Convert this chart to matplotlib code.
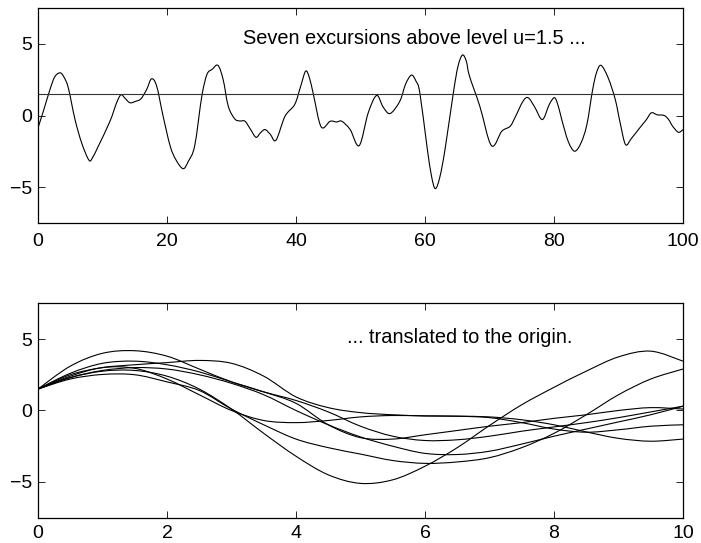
import matplotlib
matplotlib.use("Agg")
import matplotlib.pyplot as plt
from matplotlib.path import Path
from matplotlib.patches import PathPatch
import numpy as np

plt.rcParams['font.family'] = ['Liberation Sans', 'DejaVu Sans']

# top panel: the sampled series and the level
top_x = [0, 0.83, 1.86, 2.6, 3.41, 4.0, 4.7, 5.74, 6.77, 7.91, 8.5, 9.35, 11.16, 12.2,
         12.87, 13.5, 14.26, 15.2, 15.97, 16.85, 17.6, 18.4, 19.4, 20.5, 21.4, 22.5, 23.3,
         24.3, 25.4, 26.2, 27.0, 27.9, 28.7, 29.5, 30.5, 31.3, 32.1, 33.0, 33.8, 34.5, 35.2,
         36.0, 36.9, 38.3, 39.8, 40.7, 41.5, 42.1, 42.7, 43.9, 45.3, 46.3, 47.1, 48.4, 49.8,
         51.2, 52.5, 53.5, 54.6, 56.1, 57.0, 57.9, 58.6, 59.2, 60.3, 61.0, 61.6, 62.3, 63.1,
         64.4, 65.1, 65.8, 66.4, 66.9, 68.5, 70.3, 71.9, 73.2, 74.0, 75.2, 76.0, 77.0, 78.2,
         79.3, 80.1, 80.7, 81.2, 82.2, 83.2, 84.2, 85.1, 86.0, 86.6, 87.3, 88.4, 89.5, 90.3,
         91.1, 92.0, 93.3, 94.3, 95.1, 96.0, 97.1, 97.8, 98.4, 99.3, 100]
top_y = [-0.86, 0.3, 1.82, 2.7, 2.98, 2.7, 1.93, -0.28, -1.91, -3.12, -2.9, -2.14, -0.4, 0.9,
         1.45, 1.2, 0.89, 1.0, 1.17, 1.82, 2.56, 2.05, -0.05, -2.14, -3.1, -3.71, -3.2,
         -2.1, 1.35, 2.87, 3.22, 3.5, 2.52, 0.65, -0.23, -0.38, -0.4, -1.0, -1.52, -1.2, -0.98,
         -1.3, -1.72, -0.05, 0.77, 2.0, 3.1, 2.6, 1.47, -0.79, -0.4, -0.45, -0.4, -0.98, -2.1,
         0.19, 1.4, 0.6, 0.14, 1.0, 2.2, 2.82, 2.4, 1.59, -2.14, -4.2, -5.1, -4.3, -2.38,
         1.59, 3.4, 4.22, 3.8, 2.75, 0.65, -2.1, -1.1, -0.75, -0.1, 1.0, 1.24, 0.6, -0.28,
         0.8, 1.24, 0.6, -0.28, -1.8, -2.49, -1.9, -0.63, 1.82, 3.0, 3.5, 2.63, 1.12, -0.6,
         -2.03, -1.6, -0.86, -0.3, 0.19, 0.05, 0.0, -0.3, -0.75, -1.17, -0.98]
level_u = 1.5

# bottom panel: the seven excursions, shifted so they start at t=0
t_exc = [0, 0.5, 1.0, 1.5, 2.0, 2.5, 3.0, 3.5, 4.0, 4.5, 5.0, 5.5, 6.0, 6.5, 7.0,
         7.5, 8.0, 8.5, 9.0, 9.5, 10.0]
exc_a = [1.5, 2.3, 2.8, 3.0, 2.9, 2.5, 1.9, 1.1, 0.0, -1.0, -1.85, -2.5, -3.0, -3.08, -2.85,
         -2.35, -1.8, -1.3, -0.8, -0.3, 0.3]
exc_b = [1.5, 2.2, 2.52, 2.5, 2.0, 1.4, 0.1, -1.0, -2.0, -2.6, -3.05, -3.5, -3.7, -3.6, -3.3,
         -2.6, -1.6, -0.3, 1.1, 2.2, 2.9]
exc_c = [1.5, 2.5, 3.0, 3.2, 3.35, 3.5, 3.3, 2.4, 0.95, 0.2, -0.15, -0.3, -0.38, -0.4, -0.5,
         -0.85, -1.3, -1.52, -1.35, -1.1, -1.0]
exc_d = [1.5, 2.4, 3.0, 2.95, 2.2, 1.1, 0.0, -0.7, -0.85, -0.7, -0.45, -0.35, -0.38, -0.4,
         -0.45, -0.65, -1.0, -1.5, -1.95, -2.15, -2.0]
exc_e = [1.5, 2.3, 2.75, 2.8, 2.4, 1.5, 0.1, -1.6, -3.2, -4.5, -5.1, -4.85, -3.9, -2.6, -1.05,
         0.4, 1.62, 2.75, 3.75, 4.15, 3.45]
exc_f = [1.5, 3.1, 4.0, 4.18, 3.8, 2.9, 2.0, 1.3, 0.7, -0.1, -1.1, -1.8, -2.1, -2.05, -1.8,
         -1.45, -1.15, -0.85, -0.5, -0.1, 0.3]
exc_g = [1.5, 2.6, 3.3, 3.45, 3.2, 2.7, 2.0, 1.3, 0.5, -1.0, -1.9, -2.0, -1.7, -1.4, -1.1,
         -0.85, -0.55, -0.3, 0.0, 0.2, 0.1]
excursions = [exc_a, exc_b, exc_c, exc_d, exc_e, exc_f, exc_g]


def smooth_line(ax, x, y, **kw):
    # catmull-rom through the read points, drawn as bezier path in data coords
    x = np.asarray(x, float)
    y = np.asarray(y, float)
    px = np.r_[x[0], x, x[-1]]
    py = np.r_[y[0], y, y[-1]]
    verts = [(x[0], y[0])]
    codes = [Path.MOVETO]
    for i in range(len(x) - 1):
        c1 = (px[i+1] + (px[i+2] - px[i]) / 6, py[i+1] + (py[i+2] - py[i]) / 6)
        c2 = (px[i+2] - (px[i+3] - px[i+1]) / 6, py[i+2] - (py[i+3] - py[i+1]) / 6)
        verts += [c1, c2, (px[i+2], py[i+2])]
        codes += [Path.CURVE4] * 3
    ax.add_patch(PathPatch(Path(verts, codes), fill=False, **kw))


fig = plt.figure(figsize=(7.01, 5.43), dpi=100)
ax1 = fig.add_axes([0.0542, 0.5893, 0.9201, 0.3959])
ax2 = fig.add_axes([0.0542, 0.0466, 0.9201, 0.3949])

smooth_line(ax1, top_x, top_y, edgecolor='black', lw=0.8)
ax1.axhline(level_u, color='#333333', lw=0.8)
ax1.set_xlim(0, 100)
ax1.set_xticks([0, 20, 40, 60, 80, 100])
ax1.text(31.8, 5.0, 'Seven excursions above level u=1.5 ...', fontsize=14.4)

for e in excursions:
    smooth_line(ax2, t_exc, e, edgecolor='black', lw=0.8)
ax2.set_xlim(0, 10)
ax2.set_xticks([0, 2, 4, 6, 8, 10])
ax2.text(4.79, 4.75, '... translated to the origin.', fontsize=14.4)

for ax in (ax1, ax2):
    ax.set_ylim(-7.5, 7.5)
    ax.set_yticks([-5, 0, 5])
    ax.set_yticklabels(['\u22125', '0', '5'])
    ax.tick_params(direction='in', top=True, right=True, length=5, width=0.6,
                   labelsize=14)
    ax.tick_params(axis='y', pad=4)
    for s in ax.spines.values():
        s.set_linewidth(0.9)
ax1.tick_params(axis='x', pad=7.5)
ax2.tick_params(axis='x', pad=5.5)

fig.savefig('out.png', dpi=100)
